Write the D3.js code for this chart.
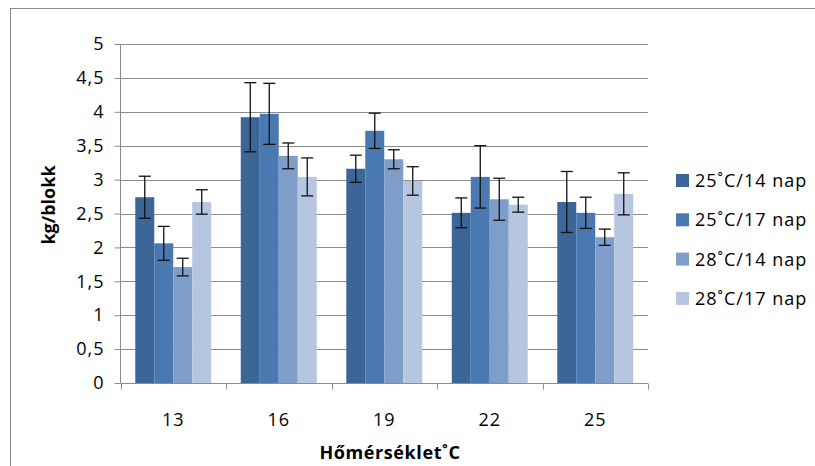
<!DOCTYPE html>
<html>
<head>
<meta charset="utf-8">
<script src="https://cdn.jsdelivr.net/npm/d3@7"></script>
<style>
  body { margin: 0; background: #fff; }
  text { font-family: "Open Sans", "Noto Sans", sans-serif; fill: #000; }
</style>
</head>
<body>
<script>
// Chart data
const categories = ["13", "16", "19", "22", "25"];
const seriesNames = ["25˚C/14 nap", "25˚C/17 nap", "28˚C/14 nap", "28˚C/17 nap"];
const means = [
    [2.74, 3.92, 3.16, 2.51, 2.67],
    [2.06, 3.97, 3.72, 3.04, 2.51],
    [1.71, 3.35, 3.30, 2.71, 2.15],
    [2.67, 3.04, 2.98, 2.63, 2.79]
];
const errors = [
    [0.31, 0.51, 0.20, 0.22, 0.45],
    [0.25, 0.45, 0.26, 0.46, 0.23],
    [0.13, 0.19, 0.14, 0.31, 0.12],
    [0.18, 0.28, 0.21, 0.11, 0.31]
];
const yTicks = [0, 0.5, 1, 1.5, 2, 2.5, 3, 3.5, 4, 4.5, 5];

const colors = ["#3d6698", "#4a79b1", "#7f9dc9", "#b6c5e0"];

const width = 815, height = 466;
const margin = {left: 120.5, right: 167, top: 44, bottom: 83};

let svg = d3.select('body').append('svg')
    .attr('width', width)
    .attr('height', height);

// Outer frame
svg.append('rect')
    .attr('x', 10.5).attr('y', 8.5)
    .attr('width', width).attr('height', height)
    .attr('fill', 'none').attr('stroke', '#8a8a8a');

let x0 = d3.scaleBand()
    .domain(categories)
    .range([margin.left, width - margin.right])
    .paddingInner(0.28).paddingOuter(0.14);

let x1 = d3.scaleBand()
    .domain(d3.range(seriesNames.length))
    .range([0, x0.bandwidth()]);

let y = d3.scaleLinear()
    .domain([0, 5])
    .range([height - margin.bottom, margin.top]);

// Gridlines
svg.append('g')
    .selectAll('line')
    .data(yTicks.slice(1))
    .enter().append('line')
    .attr('x1', margin.left).attr('x2', width - margin.right)
    .attr('y1', d => Math.round(y(d)) + 0.5)
    .attr('y2', d => Math.round(y(d)) + 0.5)
    .attr('stroke', '#8c8c8c');

// Bars
let groups = svg.append('g')
    .selectAll('g')
    .data(categories)
    .enter().append('g')
    .attr('transform', d => 'translate(' + x0(d) + ',0)');

groups.selectAll('rect')
    .data((d, ci) => means.map((s, si) => ({si: si, v: s[ci], e: errors[si][ci]})))
    .enter().append('rect')
    .attr('x', d => x1(d.si))
    .attr('width', x1.bandwidth())
    .attr('y', d => y(d.v))
    .attr('height', d => y(0) - y(d.v))
    .attr('fill', d => colors[d.si]);

// Error bars
let eb = groups.selectAll('g.err')
    .data((d, ci) => means.map((s, si) => ({si: si, v: s[ci], e: errors[si][ci]})))
    .enter().append('g')
    .attr('class', 'err')
    .attr('stroke', '#111')
    .attr('stroke-width', 1.3);

const capW = 6;
eb.append('line')
    .attr('x1', d => x1(d.si) + x1.bandwidth() / 2)
    .attr('x2', d => x1(d.si) + x1.bandwidth() / 2)
    .attr('y1', d => y(d.v + d.e))
    .attr('y2', d => y(d.v - d.e));
eb.append('line')
    .attr('x1', d => x1(d.si) + x1.bandwidth() / 2 - capW)
    .attr('x2', d => x1(d.si) + x1.bandwidth() / 2 + capW)
    .attr('y1', d => y(d.v + d.e))
    .attr('y2', d => y(d.v + d.e));
eb.append('line')
    .attr('x1', d => x1(d.si) + x1.bandwidth() / 2 - capW)
    .attr('x2', d => x1(d.si) + x1.bandwidth() / 2 + capW)
    .attr('y1', d => y(d.v - d.e))
    .attr('y2', d => y(d.v - d.e));

// Y axis
let yAxis = svg.append('g')
    .attr('transform', 'translate(' + margin.left + ',0)')
    .call(d3.axisLeft(y).tickValues(yTicks).tickSize(6).tickPadding(10)
        .tickFormat(d => String(d).replace('.', ',')));
yAxis.selectAll('line, path').attr('stroke', '#8c8c8c');
yAxis.select('path').attr('d', 'M0,' + y(0) + 'V' + y(5));
yAxis.selectAll('text')
    .attr('font-size', 18)
    .attr('letter-spacing', 1)
    .attr('font-family', '"Open Sans", sans-serif');

// X axis
let xAxisY = Math.round(y(0)) + 0.5;
let xg = svg.append('g');
xg.append('line')
    .attr('x1', margin.left).attr('x2', width - margin.right)
    .attr('y1', xAxisY).attr('y2', xAxisY)
    .attr('stroke', '#8c8c8c');
xg.selectAll('line.tick')
    .data(d3.range(categories.length + 1))
    .enter().append('line')
    .attr('class', 'tick')
    .attr('x1', i => Math.round(margin.left + i * (width - margin.right - margin.left) / categories.length) + 0.5)
    .attr('x2', i => Math.round(margin.left + i * (width - margin.right - margin.left) / categories.length) + 0.5)
    .attr('y1', xAxisY).attr('y2', xAxisY + 6)
    .attr('stroke', '#8c8c8c');
xg.selectAll('text')
    .data(categories)
    .enter().append('text')
    .attr('x', d => x0(d) + x0.bandwidth() / 2)
    .attr('y', 426)
    .attr('text-anchor', 'middle')
    .attr('font-size', 18)
    .attr('letter-spacing', 1)
    .text(d => d);

// Axis titles
svg.append('text')
    .attr('x', 390).attr('y', 459)
    .attr('text-anchor', 'middle')
    .attr('font-size', 18)
    .attr('letter-spacing', 0.6)
    .attr('font-weight', 'bold')
    .text('Hőmérséklet˚C');

svg.append('text')
    .attr('transform', 'translate(55,205) rotate(-90)')
    .attr('text-anchor', 'middle')
    .attr('font-size', 18)
    .attr('font-weight', 'bold')
    .text('kg/blokk');

// Legend
let legend = svg.append('g')
    .selectAll('g')
    .data(seriesNames)
    .enter().append('g')
    .attr('transform', (d, i) => 'translate(676,' + (174 + i * 39.3) + ')');
legend.append('rect')
    .attr('width', 13).attr('height', 13)
    .attr('fill', (d, i) => colors[i]);
legend.append('text')
    .attr('x', 19).attr('y', 13)
    .attr('font-size', 18)
    .attr('letter-spacing', 1)
    .text(d => d);
</script>
</body>
</html>
